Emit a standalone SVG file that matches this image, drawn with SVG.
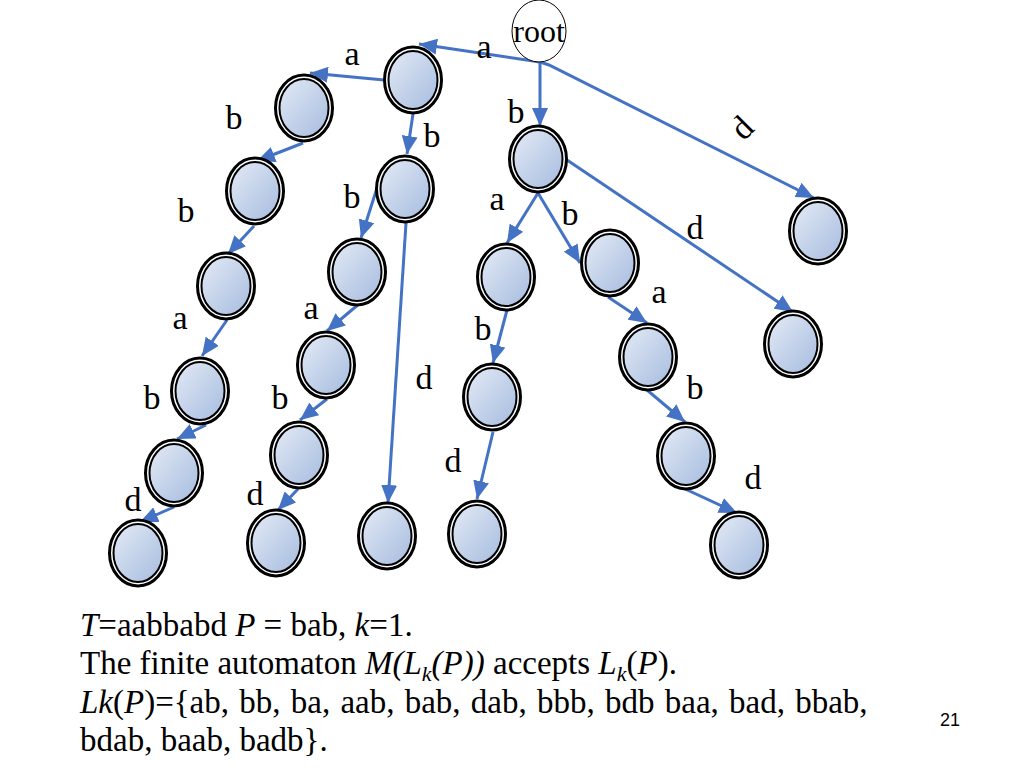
<svg xmlns="http://www.w3.org/2000/svg" width="1024" height="768" viewBox="0 0 1024 768">
<defs>
<linearGradient id="g" x1="0" y1="0" x2="1" y2="1">
<stop offset="0" stop-color="#e3eaf5"/>
<stop offset="1" stop-color="#a6bcdf"/>
</linearGradient>
<marker id="ah" markerUnits="userSpaceOnUse" markerWidth="18" markerHeight="16" refX="18" refY="8" orient="auto" viewBox="0 0 18 16">
<path d="M0,0 L18,8 L0,16 z" fill="#4472C4"/>
</marker>
</defs>
<style>
.o{fill:#fff;stroke:#000;stroke-width:3}
.i{fill:url(#g);stroke:#000;stroke-width:2}
.e{fill:none;stroke:#4472C4;stroke-width:3;marker-end:url(#ah)}
.l{font-family:"Liberation Serif","Times New Roman",serif;font-size:34px;fill:#000;text-anchor:middle}
.t{font-family:"Liberation Serif","Times New Roman",serif;font-size:33px;fill:#000}
.it{font-style:italic}
</style>
<rect width="1024" height="768" fill="#fff"/>
<g id="connectors">
<path class="e" d="M540,62 L419,44"/>
<path class="e" d="M540,62 L540,126"/>
<path class="e" d="M540,62 L549,65 L814,198"/>
<path class="e" d="M384,80 L310,73"/>
<path class="e" d="M303,143 L257,161"/>
<path class="e" d="M254,226 L228,254"/>
<path class="e" d="M227,320 L202,356"/>
<path class="e" d="M206,425 L177,439"/>
<path class="e" d="M174,507 L140,522"/>
<path class="e" d="M413,114 L407,154"/>
<path class="e" d="M377,188 L361,238"/>
<path class="e" d="M406,223 L388,503"/>
<path class="e" d="M360,303 L327,331"/>
<path class="e" d="M327,399 L300,420"/>
<path class="e" d="M298,489 L278,510"/>
<path class="e" d="M538,193 L507,243"/>
<path class="e" d="M538,193 L580,263"/>
<path class="e" d="M567,160 L793,312"/>
<path class="e" d="M507,310 L493,363"/>
<path class="e" d="M493,432 L477,499"/>
<path class="e" d="M608,297 L647,323"/>
<path class="e" d="M647,390 L685,422"/>
<path class="e" d="M683,488 L737,513"/>
</g>
<g id="labels">
<text class="l" x="484" y="58">a</text>
<text class="l" x="352" y="65">a</text>
<text class="l" x="516" y="123">b</text>
<text class="l" transform="translate(742,128) rotate(-45)" x="0" y="11">d</text>
<text class="l" x="234" y="129">b</text>
<text class="l" x="432" y="147">b</text>
<text class="l" x="186" y="222">b</text>
<text class="l" x="352" y="208">b</text>
<text class="l" x="497" y="210">a</text>
<text class="l" x="570" y="225">b</text>
<text class="l" x="695" y="239">d</text>
<text class="l" x="180" y="329">a</text>
<text class="l" x="311" y="319">a</text>
<text class="l" x="483" y="340">b</text>
<text class="l" x="659" y="303">a</text>
<text class="l" x="424" y="389">d</text>
<text class="l" x="152" y="409">b</text>
<text class="l" x="280" y="409">b</text>
<text class="l" x="695" y="399">b</text>
<text class="l" x="453" y="472">d</text>
<text class="l" x="753" y="489">d</text>
<text class="l" x="133" y="511">d</text>
<text class="l" x="255" y="505">d</text>
</g>
<g id="root">
<ellipse cx="539" cy="31" rx="27" ry="31" fill="#fff" stroke="#000" stroke-width="1"/>
<text class="l" x="539" y="42" style="font-size:32px">root</text>
</g>
<g id="n1"><ellipse class="o" cx="413" cy="80" rx="28.5" ry="33"/><ellipse class="i" cx="413" cy="80" rx="24.5" ry="29"/></g>
<g id="n2"><ellipse class="o" cx="304" cy="108" rx="28.5" ry="33"/><ellipse class="i" cx="304" cy="108" rx="24.5" ry="29"/></g>
<g id="n3"><ellipse class="o" cx="255" cy="191" rx="28.5" ry="33"/><ellipse class="i" cx="255" cy="191" rx="24.5" ry="29"/></g>
<g id="n4"><ellipse class="o" cx="226" cy="286" rx="28.5" ry="33"/><ellipse class="i" cx="226" cy="286" rx="24.5" ry="29"/></g>
<g id="n5"><ellipse class="o" cx="200" cy="391" rx="28.5" ry="33"/><ellipse class="i" cx="200" cy="391" rx="24.5" ry="29"/></g>
<g id="n6"><ellipse class="o" cx="174" cy="473" rx="28.5" ry="33"/><ellipse class="i" cx="174" cy="473" rx="24.5" ry="29"/></g>
<g id="n7"><ellipse class="o" cx="138" cy="553" rx="28.5" ry="33"/><ellipse class="i" cx="138" cy="553" rx="24.5" ry="29"/></g>
<g id="n8"><ellipse class="o" cx="405" cy="189" rx="28.5" ry="33"/><ellipse class="i" cx="405" cy="189" rx="24.5" ry="29"/></g>
<g id="n9"><ellipse class="o" cx="357" cy="272" rx="28.5" ry="33"/><ellipse class="i" cx="357" cy="272" rx="24.5" ry="29"/></g>
<g id="n10"><ellipse class="o" cx="326" cy="365" rx="28.5" ry="33"/><ellipse class="i" cx="326" cy="365" rx="24.5" ry="29"/></g>
<g id="n11"><ellipse class="o" cx="299" cy="455" rx="28.5" ry="33"/><ellipse class="i" cx="299" cy="455" rx="24.5" ry="29"/></g>
<g id="n12"><ellipse class="o" cx="276" cy="543" rx="28.5" ry="33"/><ellipse class="i" cx="276" cy="543" rx="24.5" ry="29"/></g>
<g id="n13"><ellipse class="o" cx="387" cy="536" rx="28.5" ry="33"/><ellipse class="i" cx="387" cy="536" rx="24.5" ry="29"/></g>
<g id="n14"><ellipse class="o" cx="538" cy="159" rx="28.5" ry="33"/><ellipse class="i" cx="538" cy="159" rx="24.5" ry="29"/></g>
<g id="n15"><ellipse class="o" cx="506" cy="277" rx="28.5" ry="33"/><ellipse class="i" cx="506" cy="277" rx="24.5" ry="29"/></g>
<g id="n16"><ellipse class="o" cx="492" cy="397" rx="28.5" ry="33"/><ellipse class="i" cx="492" cy="397" rx="24.5" ry="29"/></g>
<g id="n17"><ellipse class="o" cx="477" cy="534" rx="28.5" ry="33"/><ellipse class="i" cx="477" cy="534" rx="24.5" ry="29"/></g>
<g id="n18"><ellipse class="o" cx="610" cy="263" rx="28.5" ry="33"/><ellipse class="i" cx="610" cy="263" rx="24.5" ry="29"/></g>
<g id="n19"><ellipse class="o" cx="648" cy="357" rx="28.5" ry="33"/><ellipse class="i" cx="648" cy="357" rx="24.5" ry="29"/></g>
<g id="n20"><ellipse class="o" cx="686" cy="456" rx="28.5" ry="33"/><ellipse class="i" cx="686" cy="456" rx="24.5" ry="29"/></g>
<g id="n21"><ellipse class="o" cx="739" cy="545" rx="28.5" ry="33"/><ellipse class="i" cx="739" cy="545" rx="24.5" ry="29"/></g>
<g id="n22"><ellipse class="o" cx="793" cy="344" rx="28.5" ry="33"/><ellipse class="i" cx="793" cy="344" rx="24.5" ry="29"/></g>
<g id="n23"><ellipse class="o" cx="818" cy="231" rx="28.5" ry="33"/><ellipse class="i" cx="818" cy="231" rx="24.5" ry="29"/></g>
<g id="caption">
<text class="t" x="80" y="636"><tspan class="it">T</tspan>=aabbabd <tspan class="it">P</tspan> = bab, <tspan class="it">k</tspan>=1.</text>
<text class="t" x="80" y="674">The finite automaton <tspan class="it">M(L</tspan><tspan class="it" dy="7" style="font-size:22px">k</tspan><tspan class="it" dy="-7">(P))</tspan> accepts <tspan class="it">L</tspan><tspan class="it" dy="7" style="font-size:22px">k</tspan><tspan dy="-7">(</tspan><tspan class="it">P</tspan>).</text>
<text class="t" x="80" y="713" word-spacing="2"><tspan class="it">Lk</tspan>(<tspan class="it">P</tspan>)={ab, bb, ba, aab, bab, dab, bbb, bdb baa, bad, bbab,</text>
<text class="t" x="80" y="751">bdab, baab, badb}.</text>
<text x="950" y="726" style="font-family:'Liberation Sans',Arial,sans-serif;font-size:18px;text-anchor:middle;fill:#000">21</text>
</g>
</svg>
